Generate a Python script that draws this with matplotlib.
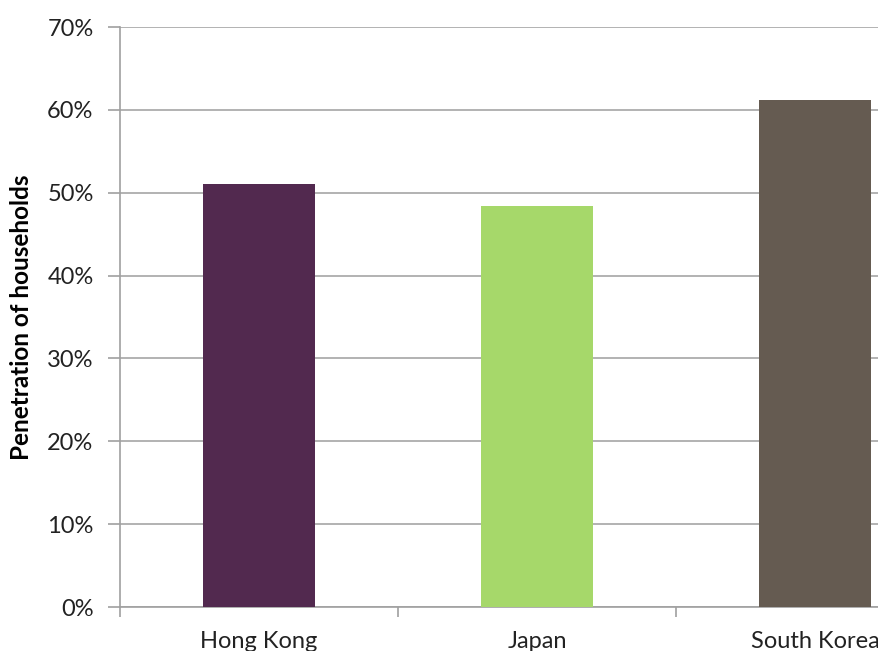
import matplotlib.pyplot as plt
import numpy as np

countries = ['Hong Kong', 'Japan', 'South Korea']
penetration = [51.0, 48.4, 61.2]
colors = ['#52294f', '#a6d86a', '#655b51']

plt.rcParams['font.family'] = ['Lato', 'DejaVu Sans']

fig = plt.figure(figsize=(8.79, 6.51), dpi=100)
ax = fig.add_axes([120/879, 44/651, 834/879, 580/651])

x = np.arange(len(countries))
ax.bar(x, penetration, width=0.40, color=colors, zorder=3)

ax.set_xlim(-0.5, 2.5)
ax.set_ylim(0, 70)
ax.set_yticks(range(0, 71, 10))
ax.set_yticklabels(['%d%%' % v for v in range(0, 71, 10)], fontsize=17, color='#222222')
ax.yaxis.grid(True, color='#a6a6a6', linewidth=1.2, zorder=0)

ax.set_xticks(x)
ax.set_xticklabels(countries, fontsize=17, color='#222222')
ax.set_xticks([-0.5, 0.5, 1.5], minor=True)
ax.tick_params(axis='x', which='major', length=0, pad=17)
ax.tick_params(axis='x', which='minor', length=7, color='#a0a0a0', width=1.2)
ax.tick_params(axis='y', length=9, color='#a0a0a0', width=1.2, pad=10)

for s in ['top', 'right']:
    ax.spines[s].set_visible(False)
for s in ['left', 'bottom']:
    ax.spines[s].set_color('#a0a0a0')
    ax.spines[s].set_linewidth(1.2)

ax.set_ylabel('Penetration of households', fontsize=17.5, fontweight='bold', labelpad=10)

fig.savefig('out.png', dpi=100)
